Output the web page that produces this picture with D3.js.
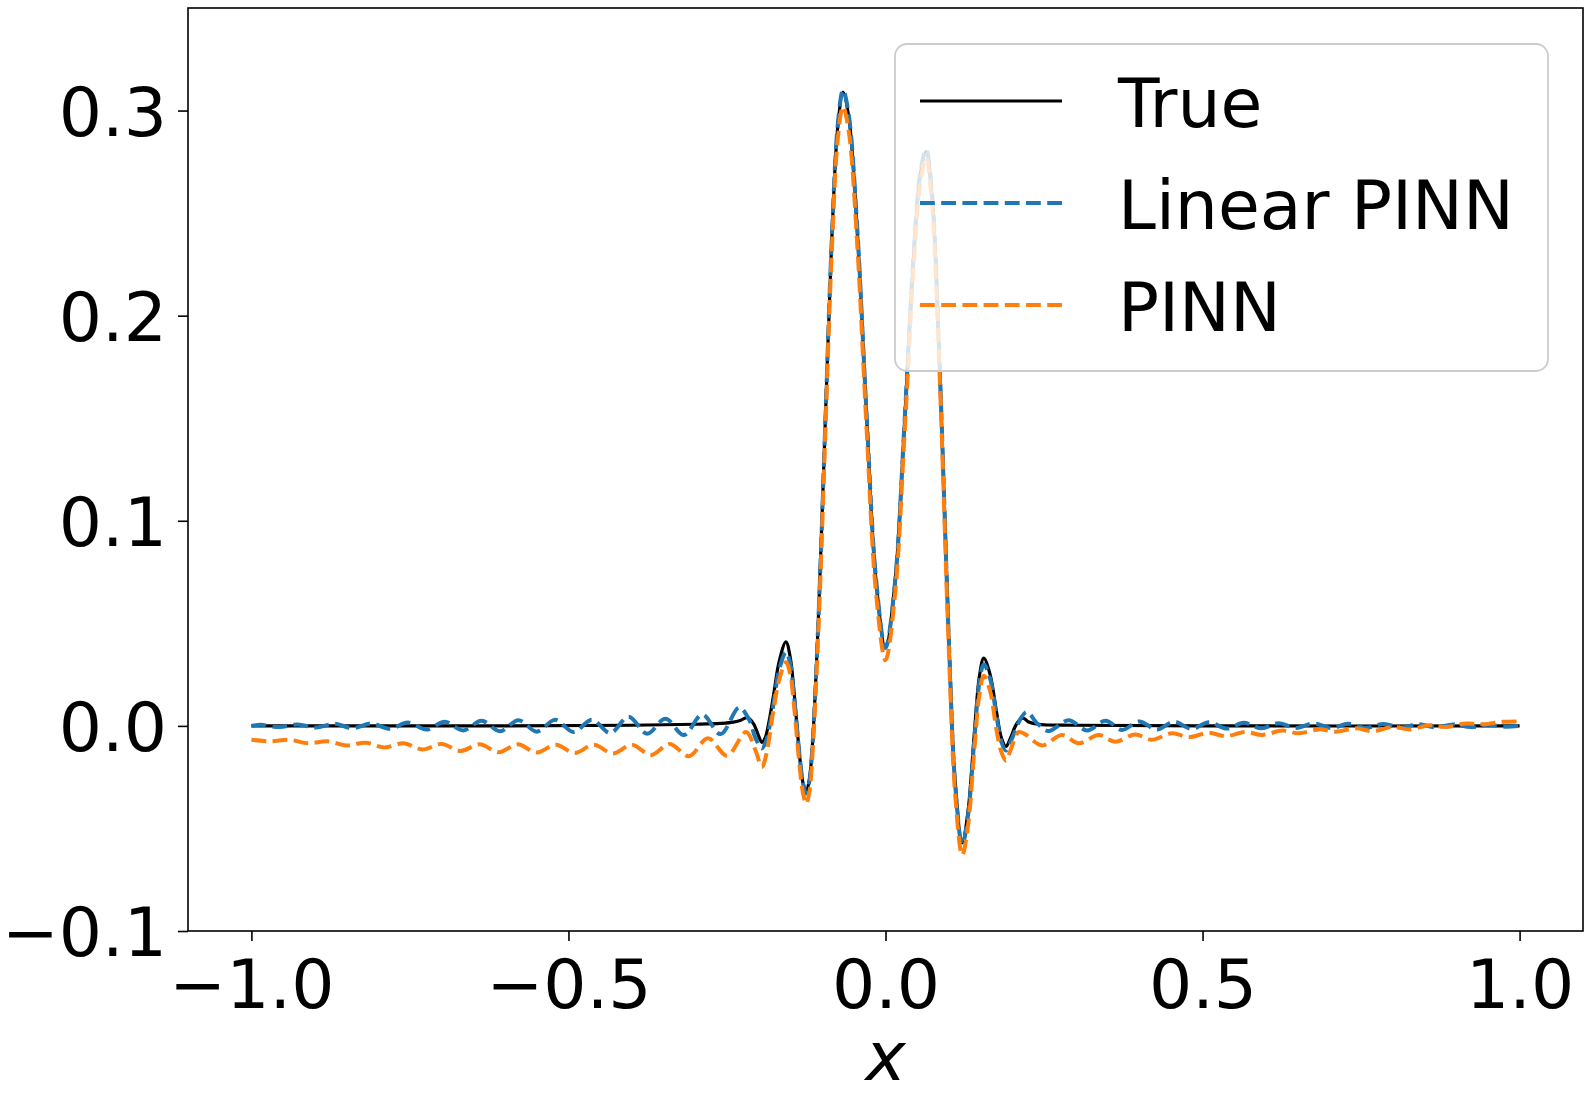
<!DOCTYPE html>
<html>
<head>
<meta charset="utf-8">
<script src="https://cdn.jsdelivr.net/npm/d3@7"></script>
<style>
  body { margin: 0; background: #fff; }
  text { font-family: "DejaVu Sans", sans-serif; fill: #000; }
</style>
</head>
<body>
<svg id="chart"></svg>
<script>
var trueX = [-1.0, -0.6, -0.4, -0.3, -0.26, -0.24, -0.228, -0.218, -0.208, -0.2, -0.195, -0.19, -0.185, -0.176, -0.168, -0.157, -0.15, -0.145, -0.141, -0.135, -0.13, -0.125, -0.12, -0.115, -0.105, -0.095, -0.085, -0.075, -0.067, -0.058, -0.045, -0.03, -0.015, 0, 0.015, 0.03, 0.045, 0.055, 0.064, 0.073, 0.085, 0.1, 0.11, 0.121, 0.13, 0.14, 0.148, 0.155, 0.165, 0.175, 0.183, 0.19, 0.197, 0.205, 0.212, 0.218, 0.225, 0.24, 0.3, 0.5, 1.0];
var trueY = [0, 0, 0.0003, 0.0008, 0.0012, 0.0018, 0.0028, 0.004, 0.001, -0.005, -0.008, -0.006, 0.0, 0.016, 0.031, 0.041, 0.033, 0.019, 0.005, -0.016, -0.028, -0.032, -0.026, -0.008, 0.059, 0.148, 0.235, 0.293, 0.309, 0.297, 0.244, 0.152, 0.071, 0.038, 0.07, 0.148, 0.232, 0.269, 0.280, 0.26, 0.179, 0.042, -0.028, -0.057, -0.042, -0.004, 0.024, 0.033, 0.025, 0.007, -0.006, -0.010, -0.006, 0.0, 0.003, 0.0037, 0.002, 0.0008, 0.0003, 0, 0];

var linX = [-1.0, -0.985, -0.956, -0.927, -0.898, -0.869, -0.84, -0.811, -0.782, -0.753, -0.724, -0.695, -0.666, -0.637, -0.608, -0.579, -0.55, -0.521, -0.492, -0.463, -0.434, -0.405, -0.376, -0.347, -0.318, -0.289, -0.26, -0.231, -0.215, -0.205, -0.195, -0.188, -0.182, -0.176, -0.168, -0.157, -0.15, -0.145, -0.141, -0.135, -0.13, -0.125, -0.12, -0.115, -0.105, -0.095, -0.085, -0.075, -0.067, -0.058, -0.045, -0.03, -0.015, 0, 0.015, 0.03, 0.045, 0.055, 0.064, 0.073, 0.085, 0.1, 0.11, 0.121, 0.13, 0.14, 0.148, 0.155, 0.165, 0.175, 0.183, 0.19, 0.197, 0.205, 0.214, 0.223, 0.24, 0.257, 0.289, 0.318, 0.347, 0.373, 0.4, 0.428, 0.455, 0.483, 0.51, 0.538, 0.565, 0.593, 0.62, 0.648, 0.675, 0.703, 0.73, 0.758, 0.785, 0.813, 0.84, 0.868, 0.895, 0.923, 0.95, 0.978, 1.0];
var linY = [0, 0.0005, -0.0006, 0.0007, -0.0008, 0.001, -0.0011, 0.0012, -0.0014, 0.0016, -0.0018, 0.002, -0.0022, 0.0025, -0.0026, 0.0028, -0.0028, 0.003, -0.003, 0.003, -0.0035, 0.0045, -0.0038, 0.0035, -0.0045, 0.0055, -0.004, 0.009, 0.003, -0.006, -0.011, -0.007, 0.001, 0.012, 0.027, 0.036, 0.030, 0.017, 0.004, -0.016, -0.028, -0.033, -0.027, -0.009, 0.058, 0.147, 0.235, 0.294, 0.310, 0.298, 0.245, 0.153, 0.072, 0.038, 0.07, 0.148, 0.233, 0.27, 0.281, 0.261, 0.179, 0.041, -0.029, -0.058, -0.044, -0.007, 0.021, 0.030, 0.023, 0.005, -0.008, -0.012, -0.008, -0.002, 0.004, 0.0068, 0.001, -0.0025, 0.0028, -0.0022, 0.0025, -0.002, 0.0022, -0.0018, 0.002, -0.0015, 0.0018, -0.0013, 0.0015, -0.0012, 0.0013, -0.001, 0.0012, -0.001, 0.001, -0.0009, 0.0009, -0.0008, 0.0008, -0.0007, 0.0007, -0.0006, 0.0005, -0.0004, 0];

var pinnX = [-1.0, -0.97, -0.94, -0.91, -0.88, -0.85, -0.82, -0.79, -0.76, -0.73, -0.70, -0.67, -0.64, -0.61, -0.58, -0.55, -0.52, -0.49, -0.46, -0.43, -0.40, -0.37, -0.34, -0.31, -0.28, -0.25, -0.22, -0.205, -0.195, -0.188, -0.182, -0.176, -0.168, -0.157, -0.15, -0.145, -0.141, -0.135, -0.13, -0.125, -0.12, -0.115, -0.105, -0.095, -0.085, -0.075, -0.067, -0.058, -0.045, -0.03, -0.015, 0, 0.015, 0.03, 0.045, 0.055, 0.064, 0.073, 0.085, 0.1, 0.11, 0.121, 0.13, 0.14, 0.148, 0.155, 0.165, 0.175, 0.183, 0.19, 0.197, 0.21, 0.22, 0.247, 0.278, 0.305, 0.336, 0.362, 0.394, 0.42, 0.452, 0.478, 0.51, 0.536, 0.568, 0.594, 0.626, 0.652, 0.684, 0.71, 0.742, 0.768, 0.80, 0.826, 0.858, 0.884, 0.916, 0.942, 0.974, 1.0];
var pinnY = [-0.0068, -0.0075, -0.0068, -0.0085, -0.0075, -0.0095, -0.0082, -0.0105, -0.0085, -0.0115, -0.0088, -0.0122, -0.009, -0.0128, -0.009, -0.013, -0.0092, -0.0132, -0.0092, -0.0135, -0.0092, -0.0142, -0.0088, -0.0148, -0.006, -0.0145, -0.003, -0.012, -0.020, -0.014, -0.003, 0.009, 0.022, 0.031, 0.025, 0.012, -0.001, -0.021, -0.033, -0.038, -0.032, -0.013, 0.053, 0.142, 0.229, 0.287, 0.302, 0.290, 0.237, 0.146, 0.065, 0.032, 0.064, 0.142, 0.227, 0.265, 0.277, 0.256, 0.174, 0.036, -0.034, -0.063, -0.049, -0.012, 0.015, 0.0245, 0.017, -0.002, -0.013, -0.017, -0.012, -0.003, -0.004, -0.0095, -0.0044, -0.0085, -0.0044, -0.0077, -0.0042, -0.0068, -0.0036, -0.0055, -0.0034, -0.005, -0.003, -0.0044, -0.0023, -0.0036, -0.0017, -0.0028, -0.0012, -0.0026, -0.0005, -0.0017, 0.0003, -0.0005, 0.0012, 0.0008, 0.002, 0.0022];

var seriesNames = ['True', 'Linear PINN', 'PINN'];
var xTicks = [-1.0, -0.5, 0.0, 0.5, 1.0];
var yTicks = [-0.1, 0.0, 0.1, 0.2, 0.3];

var width = 1594;
var height = 1094;
// plot box (window.top is read-only, so keep these in one object)
var plot = { x0: 188, x1: 1583, y0: 8, y1: 931 };
var fontSize = 68;

var svg = d3.select('#chart')
    .attr('width', width)
    .attr('height', height);

var xScale = d3.scaleLinear()
    .domain([-1.1, 1.1])
    .range([plot.x0, plot.x1]);

var yScale = d3.scaleLinear()
    .domain([-0.1, 0.35])
    .range([plot.y1, plot.y0]);

var xAxis = d3.axisBottom(xScale)
    .tickValues(xTicks)
    .tickFormat(d3.format('.1f'))
    .tickSize(10)
    .tickPadding(19)
    .tickSizeOuter(0);

var yAxis = d3.axisLeft(yScale)
    .tickValues(yTicks)
    .tickFormat(d3.format('.1f'))
    .tickSize(10)
    .tickPadding(11)
    .tickSizeOuter(0);

var gx = svg.append('g')
    .attr('transform', 'translate(0,' + plot.y1 + ')')
    .call(xAxis);

var gy = svg.append('g')
    .attr('transform', 'translate(' + plot.x0 + ',0)')
    .call(yAxis);

[gx, gy].forEach(function(g) {
    g.select('.domain').remove();
    g.selectAll('line').attr('stroke', '#000').attr('stroke-width', 1.6);
    g.selectAll('text')
        .attr('font-family', '"DejaVu Sans", sans-serif')
        .attr('font-size', fontSize)
        .attr('fill', '#000');
});
gy.selectAll('text').attr('dy', '0.36em');

var line = d3.line()
    .x(d => xScale(d[0]))
    .y(d => yScale(d[1]))
    .curve(d3.curveCatmullRom.alpha(0.5));

var series = [
    { name: seriesNames[0], data: d3.zip(trueX, trueY), color: '#000000', width: 3.2, dash: null },
    { name: seriesNames[1], data: d3.zip(linX, linY), color: '#1f77b4', width: 4, dash: '14.8,6.4' },
    { name: seriesNames[2], data: d3.zip(pinnX, pinnY), color: '#ff7f0e', width: 4, dash: '14.8,6.4' }
];

svg.selectAll('.series')
    .data(series)
    .enter()
    .append('path')
    .classed('series', true)
    .attr('d', d => line(d.data))
    .attr('fill', 'none')
    .attr('stroke', d => d.color)
    .attr('stroke-width', d => d.width)
    .attr('stroke-dasharray', d => d.dash);

// frame
svg.append('rect')
    .attr('x', plot.x0)
    .attr('y', plot.y0)
    .attr('width', plot.x1 - plot.x0)
    .attr('height', plot.y1 - plot.y0)
    .attr('fill', 'none')
    .attr('stroke', '#000')
    .attr('stroke-width', 1.6);

svg.append('text')
    .attr('x', xScale(0))
    .attr('y', 1080)
    .attr('text-anchor', 'middle')
    .attr('font-size', fontSize)
    .attr('font-style', 'italic')
    .text('x');

// legend
var legend = svg.append('g');
legend.append('rect')
    .attr('x', 895)
    .attr('y', 44)
    .attr('width', 653)
    .attr('height', 327)
    .attr('rx', 12)
    .attr('fill', '#fff')
    .attr('fill-opacity', 0.8)
    .attr('stroke', '#cccccc')
    .attr('stroke-width', 1.8);

var rows = legend.selectAll('.row')
    .data(series)
    .enter()
    .append('g')
    .attr('transform', (d, i) => 'translate(0,' + (127 + i * 102) + ')');

rows.append('line')
    .attr('x1', 920)
    .attr('x2', 1062)
    .attr('y1', -26)
    .attr('y2', -26)
    .attr('stroke', d => d.color)
    .attr('stroke-width', d => d.width)
    .attr('stroke-dasharray', d => d.dash);

rows.append('text')
    .attr('x', 1118)
    .attr('font-size', fontSize)
    .text(d => d.name);
</script>
</body>
</html>
